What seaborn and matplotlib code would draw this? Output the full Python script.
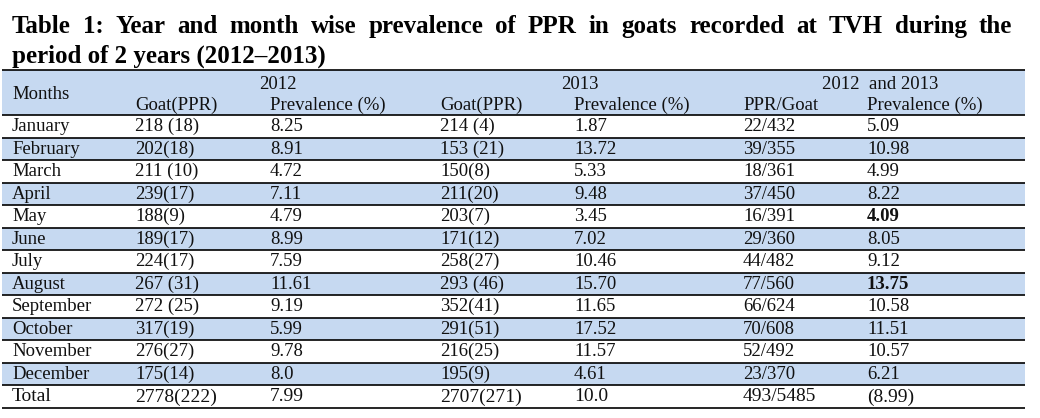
import matplotlib
matplotlib.use("Agg")
import matplotlib.pyplot as plt
from matplotlib.colors import ListedColormap
import pandas as pd
import seaborn as sns

## Data

title_line1 = "Table 1: Year and month wise prevalence of PPR in goats recorded at TVH during the"
title_line2 = "period of 2 years (2012\u20132013)"

year_groups = ["2012", "2013", "2012  and 2013"]
sub_headers = ["Goat(PPR)", "Prevalence (%)", "Goat(PPR)", "Prevalence (%)",
               "PPR/Goat", "Prevalence (%)"]

months = ["January", "February", "March", "April", "May", "June", "July",
          "August", "September", "October", "November", "December", "Total"]
goat_2012 = ["218 (18)", "202(18)", "211 (10)", "239(17)", "188(9)", "189(17)",
             "224(17)", "267 (31)", "272 (25)", "317(19)", "276(27)", "175(14)",
             "2778(222)"]
prev_2012 = ["8.25", "8.91", "4.72", "7.11", "4.79", "8.99", "7.59", "11.61",
             "9.19", "5.99", "9.78", "8.0", "7.99"]
goat_2013 = ["214 (4)", "153 (21)", "150(8)", "211(20)", "203(7)", "171(12)",
             "258(27)", "293 (46)", "352(41)", "291(51)", "216(25)", "195(9)",
             "2707(271)"]
prev_2013 = ["1.87", "13.72", "5.33", "9.48", "3.45", "7.02", "10.46", "15.70",
             "11.65", "17.52", "11.57", "4.61", "10.0"]
ppr_goat = ["22/432", "39/355", "18/361", "37/450", "16/391", "29/360", "44/482",
            "77/560", "66/624", "70/608", "52/492", "23/370", "493/5485"]
prev_both = ["5.09", "10.98", "4.99", "8.22", "4.09", "8.05", "9.12", "13.75",
             "10.58", "11.51", "10.57", "6.21", "(8.99)"]
bold_cells = ["4.09", "13.75"]

## Layout (pixels)

W, H = 1040, 418
tx0, tx1, ty0, ty1 = 2, 1025, 70, 408
col_left = [12, 135, 270, 440, 574, 743, 867]
group_x = [278, 580, 822]
band = "#C6D9F1"
ink = "#111111"

sns.set_theme(style="white")
plt.rcParams["font.family"] = ["Liberation Serif", "DejaVu Serif"]

fig = plt.figure(figsize=(W / 100, H / 100), dpi=100)
fig.patch.set_facecolor("white")

# background axes in pixel coordinates (for the title)
ax_bg = fig.add_axes([0, 0, 1, 1])
ax_bg.set_xlim(0, W)
ax_bg.set_ylim(H, 0)
ax_bg.axis("off")

# table axes: shaded bands drawn with a one-column heatmap
ax = fig.add_axes([tx0 / W, 1 - ty1 / H, (tx1 - tx0) / W, (ty1 - ty0) / H])
shade = [1, 1] + [i % 2 for i in range(len(months))]
df = pd.DataFrame({"band": shade})
sns.heatmap(df, ax=ax, cmap=ListedColormap(["white", band]), vmin=0, vmax=1,
            cbar=False, xticklabels=False, yticklabels=False)
ax.set_xlim(0, 1)
ax.set_ylim(len(shade), 0)


def fx(px):
    return (px - tx0) / (tx1 - tx0)


# horizontal rules
rule_y = [0] + list(range(2, len(shade) + 1))
ax.hlines(rule_y, 0, 1, color="black", lw=1.2, clip_on=False)

# header
fs = 13.5
ax.text(fx(col_left[0]), 1.29, "Months", fontsize=fs, color=ink, va="baseline")
for i, g in enumerate(year_groups):
    ha = "center" if i < 2 else "left"
    ax.text(fx(group_x[i]), 0.84, g, fontsize=fs, color=ink, va="baseline", ha=ha)
for i, s in enumerate(sub_headers):
    ax.text(fx(col_left[i + 1]), 1.78, s, fontsize=fs, color=ink, va="baseline")

# body
columns = [months, goat_2012, prev_2012, goat_2013, prev_2013, ppr_goat, prev_both]
for r in range(len(months)):
    y = 2 + r + 0.71
    size = 14 if months[r] == "Total" else fs
    for c, col in enumerate(columns):
        val = col[r]
        weight = "bold" if (c == 6 and val in bold_cells) else "normal"
        ax.text(fx(col_left[c]), y, val, fontsize=size, color=ink,
                va="baseline", fontweight=weight)

# title, line 1 justified between x=12 and x=1012
tfs = 18
words = title_line1.split(" ")
objs = [ax_bg.text(0, 33, w, fontsize=tfs, fontweight="bold", color="black",
                   va="baseline") for w in words]
fig.canvas.draw()
renderer = fig.canvas.get_renderer()
widths = [o.get_window_extent(renderer).width for o in objs]
gap = (1012 - 12 - sum(widths)) / (len(words) - 1)
x = 12
for o, w in zip(objs, widths):
    o.set_x(x)
    x += w + gap
ax_bg.text(12, 63, title_line2, fontsize=tfs, fontweight="bold", color="black",
           va="baseline")

fig.savefig("out.png", dpi=100)
